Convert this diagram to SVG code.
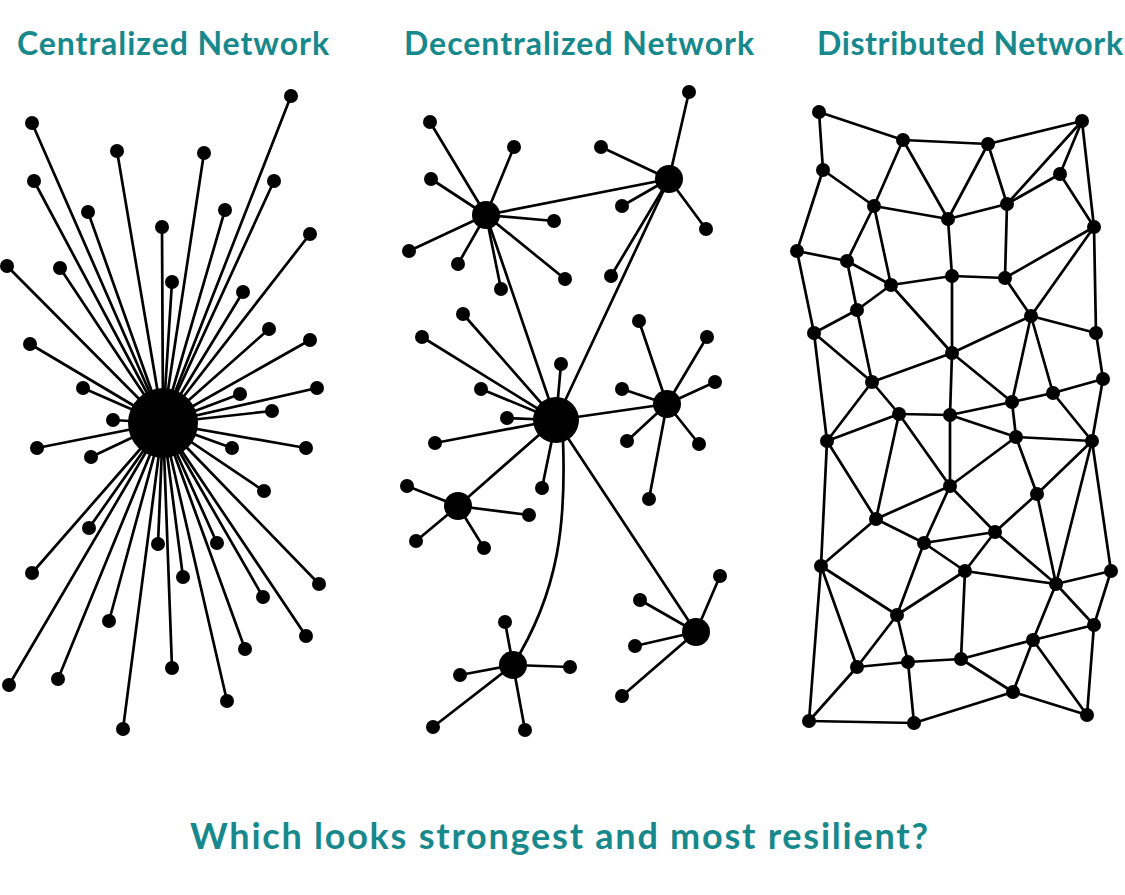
<svg xmlns="http://www.w3.org/2000/svg" width="1125" height="895" viewBox="0 0 1125 895">
<style>
.t{font-family:Lato,"Open Sans","Liberation Sans",sans-serif;font-weight:700;fill:#17898c}
.e line,.e path{stroke:#000;stroke-width:2.7;fill:none;stroke-linecap:round}
.n circle{fill:#000}
</style>
<rect width="1125" height="895" fill="#fff"/>
<g id="titles">
<text class="t" x="17" y="55" font-size="32" textLength="312">Centralized Network</text>
<text class="t" x="404" y="55" font-size="32" textLength="350">Decentralized Network</text>
<text class="t" x="817" y="55" font-size="32" textLength="306">Distributed Network</text>
<text class="t" x="190" y="849" font-size="36" textLength="738">Which looks strongest and most resilient?</text>
</g>
<g id="connectors" class="e">
<g id="central-edges">
<line x1="163" y1="423" x2="291" y2="96"/><line x1="163" y1="423" x2="32" y2="123"/><line x1="163" y1="423" x2="117" y2="151"/><line x1="163" y1="423" x2="204" y2="153"/><line x1="163" y1="423" x2="34" y2="181"/><line x1="163" y1="423" x2="274" y2="181"/><line x1="163" y1="423" x2="88" y2="212"/><line x1="163" y1="423" x2="225" y2="210"/><line x1="163" y1="423" x2="162" y2="227"/><line x1="163" y1="423" x2="310" y2="234"/><line x1="163" y1="423" x2="7" y2="266"/><line x1="163" y1="423" x2="60" y2="268"/><line x1="163" y1="423" x2="172" y2="282"/><line x1="163" y1="423" x2="243" y2="292"/><line x1="163" y1="423" x2="269" y2="329"/><line x1="163" y1="423" x2="30" y2="344"/><line x1="163" y1="423" x2="310" y2="340"/><line x1="163" y1="423" x2="83" y2="388"/><line x1="163" y1="423" x2="240" y2="394"/><line x1="163" y1="423" x2="317" y2="388"/><line x1="163" y1="423" x2="272" y2="411"/><line x1="163" y1="423" x2="113" y2="420"/><line x1="163" y1="423" x2="37" y2="448"/><line x1="163" y1="423" x2="91" y2="457"/><line x1="163" y1="423" x2="232" y2="448"/><line x1="163" y1="423" x2="306" y2="448"/><line x1="163" y1="423" x2="264" y2="491"/><line x1="163" y1="423" x2="89" y2="528"/><line x1="163" y1="423" x2="158" y2="544"/><line x1="163" y1="423" x2="217" y2="543"/><line x1="163" y1="423" x2="32" y2="573"/><line x1="163" y1="423" x2="183" y2="577"/><line x1="163" y1="423" x2="319" y2="584"/><line x1="163" y1="423" x2="263" y2="597"/><line x1="163" y1="423" x2="109" y2="621"/><line x1="163" y1="423" x2="306" y2="636"/><line x1="163" y1="423" x2="245" y2="649"/><line x1="163" y1="423" x2="172" y2="668"/><line x1="163" y1="423" x2="9" y2="685"/><line x1="163" y1="423" x2="58" y2="679"/><line x1="163" y1="423" x2="227" y2="701"/><line x1="163" y1="423" x2="123" y2="729"/>
</g>
<g id="decentral-edges">
<line x1="556" y1="420" x2="463" y2="314"/><line x1="556" y1="420" x2="422" y2="337"/><line x1="556" y1="420" x2="561" y2="364"/><line x1="556" y1="420" x2="481" y2="389"/><line x1="556" y1="420" x2="507" y2="418"/><line x1="556" y1="420" x2="435" y2="443"/><line x1="556" y1="420" x2="542" y2="488"/>
<line x1="486" y1="215" x2="430" y2="122"/><line x1="486" y1="215" x2="514" y2="147"/><line x1="486" y1="215" x2="431" y2="179"/><line x1="486" y1="215" x2="554" y2="221"/><line x1="486" y1="215" x2="409" y2="251"/><line x1="486" y1="215" x2="458" y2="264"/><line x1="486" y1="215" x2="501" y2="289"/><line x1="486" y1="215" x2="565" y2="279"/>
<line x1="669" y1="179" x2="689" y2="92"/><line x1="669" y1="179" x2="601" y2="147"/><line x1="669" y1="179" x2="622" y2="206"/><line x1="669" y1="179" x2="706" y2="229"/><line x1="669" y1="179" x2="611" y2="276"/>
<line x1="667" y1="404" x2="639" y2="321"/><line x1="667" y1="404" x2="707" y2="337"/><line x1="667" y1="404" x2="715" y2="382"/><line x1="667" y1="404" x2="622" y2="389"/><line x1="667" y1="404" x2="627" y2="441"/><line x1="667" y1="404" x2="699" y2="444"/><line x1="667" y1="404" x2="649" y2="499"/>
<line x1="458" y1="506" x2="407" y2="486"/><line x1="458" y1="506" x2="529" y2="515"/><line x1="458" y1="506" x2="416" y2="541"/><line x1="458" y1="506" x2="484" y2="548"/>
<line x1="696" y1="632" x2="720" y2="576"/><line x1="696" y1="632" x2="640" y2="600"/><line x1="696" y1="632" x2="635" y2="646"/><line x1="696" y1="632" x2="622" y2="696"/>
<line x1="513" y1="665" x2="505" y2="622"/><line x1="513" y1="665" x2="460" y2="675"/><line x1="513" y1="665" x2="570" y2="667"/><line x1="513" y1="665" x2="433" y2="727"/><line x1="513" y1="665" x2="525" y2="730"/>
<line x1="486" y1="215" x2="669" y2="179"/><line x1="486" y1="215" x2="556" y2="420"/><line x1="669" y1="179" x2="556" y2="420"/><line x1="556" y1="420" x2="667" y2="404"/><line x1="556" y1="420" x2="458" y2="506"/><line x1="556" y1="420" x2="696" y2="632"/>
<path d="M563 440 C566 520 560 590 513 665"/>
</g>
<g id="distributed-edges">
<line x1="819" y1="112" x2="903" y2="140"/><line x1="819" y1="112" x2="823" y2="170"/><line x1="903" y1="140" x2="988" y2="144"/><line x1="988" y1="144" x2="1082" y2="121"/><line x1="903" y1="140" x2="874" y2="206"/><line x1="903" y1="140" x2="948" y2="219"/><line x1="988" y1="144" x2="948" y2="219"/><line x1="988" y1="144" x2="1007" y2="204"/><line x1="1082" y1="121" x2="1007" y2="204"/><line x1="1082" y1="121" x2="1060" y2="174"/><line x1="1082" y1="121" x2="1094" y2="227"/><line x1="1060" y1="174" x2="1007" y2="204"/><line x1="1060" y1="174" x2="1094" y2="227"/><line x1="823" y1="170" x2="874" y2="206"/><line x1="823" y1="170" x2="797" y2="251"/><line x1="874" y1="206" x2="948" y2="219"/><line x1="948" y1="219" x2="1007" y2="204"/><line x1="874" y1="206" x2="847" y2="261"/><line x1="797" y1="251" x2="847" y2="261"/><line x1="874" y1="206" x2="891" y2="285"/><line x1="948" y1="219" x2="952" y2="276"/><line x1="1007" y1="204" x2="1005" y2="278"/><line x1="1094" y1="227" x2="1005" y2="278"/><line x1="1094" y1="227" x2="1031" y2="316"/><line x1="1094" y1="227" x2="1096" y2="333"/>
<line x1="797" y1="251" x2="814" y2="333"/><line x1="847" y1="261" x2="857" y2="310"/><line x1="847" y1="261" x2="891" y2="285"/><line x1="891" y1="285" x2="952" y2="276"/><line x1="952" y1="276" x2="1005" y2="278"/><line x1="891" y1="285" x2="857" y2="310"/><line x1="857" y1="310" x2="814" y2="333"/><line x1="857" y1="310" x2="872" y2="382"/><line x1="891" y1="285" x2="952" y2="353"/><line x1="952" y1="276" x2="952" y2="353"/><line x1="1005" y1="278" x2="1031" y2="316"/><line x1="1031" y1="316" x2="952" y2="353"/><line x1="1031" y1="316" x2="1096" y2="333"/><line x1="1031" y1="316" x2="1012" y2="402"/><line x1="1031" y1="316" x2="1053" y2="393"/><line x1="1096" y1="333" x2="1103" y2="379"/><line x1="814" y1="333" x2="872" y2="382"/><line x1="952" y1="353" x2="872" y2="382"/><line x1="952" y1="353" x2="950" y2="415"/><line x1="952" y1="353" x2="1012" y2="402"/><line x1="872" y1="382" x2="899" y2="414"/><line x1="1103" y1="379" x2="1053" y2="393"/><line x1="1053" y1="393" x2="1012" y2="402"/><line x1="1012" y1="402" x2="950" y2="415"/><line x1="899" y1="414" x2="950" y2="415"/>
<line x1="814" y1="333" x2="827" y2="441"/><line x1="872" y1="382" x2="827" y2="441"/><line x1="899" y1="414" x2="827" y2="441"/><line x1="1012" y1="402" x2="1016" y2="437"/><line x1="950" y1="415" x2="1016" y2="437"/><line x1="1103" y1="379" x2="1092" y2="441"/><line x1="1053" y1="393" x2="1092" y2="441"/><line x1="1016" y1="437" x2="1092" y2="441"/><line x1="827" y1="441" x2="821" y2="566"/><line x1="827" y1="441" x2="876" y2="519"/><line x1="899" y1="414" x2="876" y2="519"/><line x1="899" y1="414" x2="950" y2="486"/><line x1="950" y1="415" x2="950" y2="486"/><line x1="1016" y1="437" x2="950" y2="486"/><line x1="1016" y1="437" x2="1037" y2="494"/><line x1="1092" y1="441" x2="1037" y2="494"/><line x1="1092" y1="441" x2="1056" y2="584"/><line x1="1092" y1="441" x2="1111" y2="571"/><line x1="950" y1="486" x2="876" y2="519"/><line x1="950" y1="486" x2="924" y2="543"/><line x1="950" y1="486" x2="995" y2="532"/><line x1="1037" y1="494" x2="995" y2="532"/><line x1="876" y1="519" x2="821" y2="566"/><line x1="876" y1="519" x2="924" y2="543"/><line x1="924" y1="543" x2="995" y2="532"/><line x1="924" y1="543" x2="965" y2="571"/><line x1="995" y1="532" x2="965" y2="571"/><line x1="995" y1="532" x2="1056" y2="584"/><line x1="965" y1="571" x2="1056" y2="584"/><line x1="1037" y1="494" x2="1056" y2="584"/>
<line x1="821" y1="566" x2="809" y2="721"/><line x1="821" y1="566" x2="857" y2="667"/><line x1="821" y1="566" x2="897" y2="615"/><line x1="924" y1="543" x2="897" y2="615"/><line x1="965" y1="571" x2="897" y2="615"/><line x1="965" y1="571" x2="961" y2="659"/><line x1="1056" y1="584" x2="1111" y2="571"/><line x1="1056" y1="584" x2="1094" y2="625"/><line x1="1111" y1="571" x2="1094" y2="625"/><line x1="1056" y1="584" x2="1033" y2="640"/><line x1="897" y1="615" x2="857" y2="667"/><line x1="897" y1="615" x2="908" y2="662"/><line x1="857" y1="667" x2="908" y2="662"/><line x1="857" y1="667" x2="809" y2="721"/><line x1="908" y1="662" x2="961" y2="659"/><line x1="908" y1="662" x2="914" y2="723"/><line x1="961" y1="659" x2="1033" y2="640"/><line x1="961" y1="659" x2="1013" y2="692"/><line x1="1033" y1="640" x2="1094" y2="625"/><line x1="1033" y1="640" x2="1013" y2="692"/><line x1="1033" y1="640" x2="1087" y2="715"/><line x1="1094" y1="625" x2="1087" y2="715"/><line x1="1013" y1="692" x2="1087" y2="715"/><line x1="1013" y1="692" x2="914" y2="723"/><line x1="809" y1="721" x2="914" y2="723"/>
</g>
</g>
<g id="centralized" class="n">
<circle id="c-hub" cx="163" cy="423" r="35"/>
<g id="c-leaves">
<circle cx="291" cy="96" r="7"/><circle cx="32" cy="123" r="7"/><circle cx="117" cy="151" r="7"/><circle cx="204" cy="153" r="7"/><circle cx="34" cy="181" r="7"/><circle cx="274" cy="181" r="7"/><circle cx="88" cy="212" r="7"/><circle cx="225" cy="210" r="7"/><circle cx="162" cy="227" r="7"/><circle cx="310" cy="234" r="7"/><circle cx="7" cy="266" r="7"/><circle cx="60" cy="268" r="7"/><circle cx="172" cy="282" r="7"/><circle cx="243" cy="292" r="7"/><circle cx="269" cy="329" r="7"/><circle cx="30" cy="344" r="7"/><circle cx="310" cy="340" r="7"/><circle cx="83" cy="388" r="7"/><circle cx="240" cy="394" r="7"/><circle cx="317" cy="388" r="7"/><circle cx="272" cy="411" r="7"/><circle cx="113" cy="420" r="7"/><circle cx="37" cy="448" r="7"/><circle cx="91" cy="457" r="7"/><circle cx="232" cy="448" r="7"/><circle cx="306" cy="448" r="7"/><circle cx="264" cy="491" r="7"/><circle cx="89" cy="528" r="7"/><circle cx="158" cy="544" r="7"/><circle cx="217" cy="543" r="7"/><circle cx="32" cy="573" r="7"/><circle cx="183" cy="577" r="7"/><circle cx="319" cy="584" r="7"/><circle cx="263" cy="597" r="7"/><circle cx="109" cy="621" r="7"/><circle cx="306" cy="636" r="7"/><circle cx="245" cy="649" r="7"/><circle cx="172" cy="668" r="7"/><circle cx="9" cy="685" r="7"/><circle cx="58" cy="679" r="7"/><circle cx="227" cy="701" r="7"/><circle cx="123" cy="729" r="7"/>
</g>
</g>
<g id="decentralized" class="n">
<circle id="d-main" cx="556" cy="420" r="23"/>
<circle id="d-hubA" cx="486" cy="215" r="14"/><circle id="d-hubB" cx="669" cy="179" r="14"/><circle id="d-hubC" cx="667" cy="404" r="14"/><circle id="d-hubD" cx="458" cy="506" r="14"/><circle id="d-hubE" cx="696" cy="632" r="14"/><circle id="d-hubF" cx="513" cy="665" r="14"/>
<g id="d-leaves">
<circle cx="463" cy="314" r="7"/><circle cx="422" cy="337" r="7"/><circle cx="561" cy="364" r="7"/><circle cx="481" cy="389" r="7"/><circle cx="507" cy="418" r="7"/><circle cx="435" cy="443" r="7"/><circle cx="542" cy="488" r="7"/>
<circle cx="430" cy="122" r="7"/><circle cx="514" cy="147" r="7"/><circle cx="431" cy="179" r="7"/><circle cx="554" cy="221" r="7"/><circle cx="409" cy="251" r="7"/><circle cx="458" cy="264" r="7"/><circle cx="501" cy="289" r="7"/><circle cx="565" cy="279" r="7"/>
<circle cx="689" cy="92" r="7"/><circle cx="601" cy="147" r="7"/><circle cx="622" cy="206" r="7"/><circle cx="706" cy="229" r="7"/><circle cx="611" cy="276" r="7"/>
<circle cx="639" cy="321" r="7"/><circle cx="707" cy="337" r="7"/><circle cx="715" cy="382" r="7"/><circle cx="622" cy="389" r="7"/><circle cx="627" cy="441" r="7"/><circle cx="699" cy="444" r="7"/><circle cx="649" cy="499" r="7"/>
<circle cx="407" cy="486" r="7"/><circle cx="529" cy="515" r="7"/><circle cx="416" cy="541" r="7"/><circle cx="484" cy="548" r="7"/>
<circle cx="720" cy="576" r="7"/><circle cx="640" cy="600" r="7"/><circle cx="635" cy="646" r="7"/><circle cx="622" cy="696" r="7"/>
<circle cx="505" cy="622" r="7"/><circle cx="460" cy="675" r="7"/><circle cx="570" cy="667" r="7"/><circle cx="433" cy="727" r="7"/><circle cx="525" cy="730" r="7"/>
</g>
</g>
<g id="distributed" class="n">
<circle cx="819" cy="112" r="7"/><circle cx="903" cy="140" r="7"/><circle cx="988" cy="144" r="7"/><circle cx="1082" cy="121" r="7"/><circle cx="823" cy="170" r="7"/><circle cx="1060" cy="174" r="7"/><circle cx="874" cy="206" r="7"/><circle cx="948" cy="219" r="7"/><circle cx="1007" cy="204" r="7"/><circle cx="1094" cy="227" r="7"/><circle cx="797" cy="251" r="7"/><circle cx="847" cy="261" r="7"/><circle cx="891" cy="285" r="7"/><circle cx="952" cy="276" r="7"/><circle cx="1005" cy="278" r="7"/><circle cx="857" cy="310" r="7"/><circle cx="814" cy="333" r="7"/><circle cx="1031" cy="316" r="7"/><circle cx="1096" cy="333" r="7"/><circle cx="952" cy="353" r="7"/><circle cx="872" cy="382" r="7"/><circle cx="1103" cy="379" r="7"/><circle cx="1053" cy="393" r="7"/><circle cx="1012" cy="402" r="7"/><circle cx="899" cy="414" r="7"/><circle cx="950" cy="415" r="7"/><circle cx="827" cy="441" r="7"/><circle cx="1016" cy="437" r="7"/><circle cx="1092" cy="441" r="7"/><circle cx="950" cy="486" r="7"/><circle cx="1037" cy="494" r="7"/><circle cx="876" cy="519" r="7"/><circle cx="995" cy="532" r="7"/><circle cx="924" cy="543" r="7"/><circle cx="821" cy="566" r="7"/><circle cx="965" cy="571" r="7"/><circle cx="1111" cy="571" r="7"/><circle cx="1056" cy="584" r="7"/><circle cx="897" cy="615" r="7"/><circle cx="1094" cy="625" r="7"/><circle cx="1033" cy="640" r="7"/><circle cx="857" cy="667" r="7"/><circle cx="908" cy="662" r="7"/><circle cx="961" cy="659" r="7"/><circle cx="1013" cy="692" r="7"/><circle cx="809" cy="721" r="7"/><circle cx="914" cy="723" r="7"/><circle cx="1087" cy="715" r="7"/>
</g>
</svg>
